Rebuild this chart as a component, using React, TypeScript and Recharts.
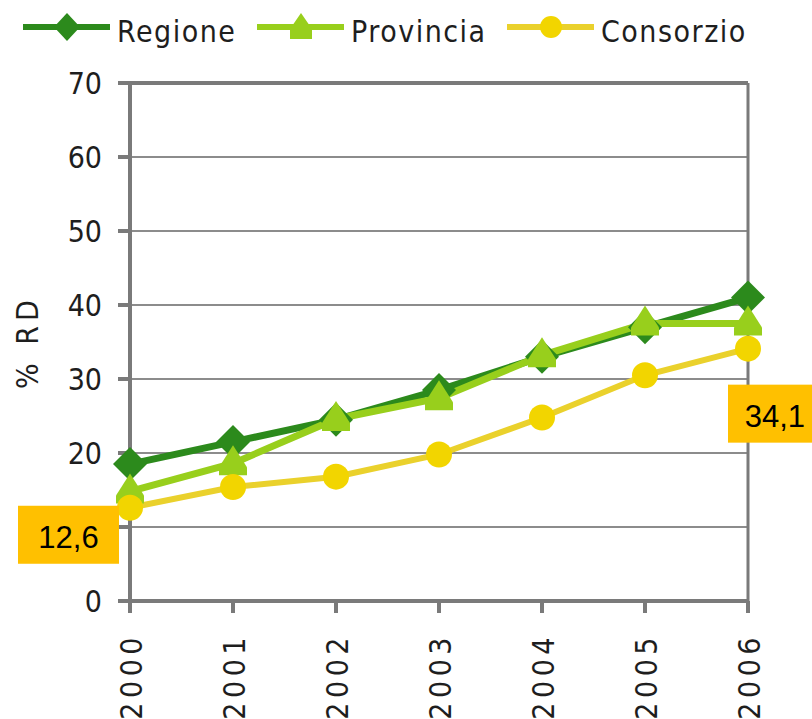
import { LineChart, Line, XAxis, YAxis, CartesianGrid, Legend, LabelList, ReferenceLine } from "recharts";

const years = ["2000", "2001", "2002", "2003", "2004", "2005", "2006"];
const regione = [18.5, 21.5, 24.5, 28.5, 33, 37, 41];
const provincia = [14.8, 18.6, 24.6, 27.4, 33.2, 37.5, 37.5];
const consorzio = [12.6, 15.4, 16.8, 19.8, 24.8, 30.5, 34.1];
const yTicks = [0, 10, 20, 30, 40, 50, 60, 70];

const data = years.map((y, i) => ({
  year: y,
  regione: regione[i],
  provincia: provincia[i],
  consorzio: consorzio[i],
}));

const DARK = "#2c8a1c";
const LIGHT = "#98cf1c";
const YELLOW = "#ead12c";
const YELLOW_DOT = "#f2d500";
const FONT = "'DejaVu Sans Condensed', 'DejaVu Sans'";
const TXT = "#1e1e1e";

const Diamond = (props: any) => {
  const { cx, cy } = props;
  if (cx == null || cy == null) return null;
  const r = 17;
  return <path d={`M${cx},${cy - r}L${cx + r},${cy}L${cx},${cy + r}L${cx - r},${cy}Z`} fill={DARK} />;
};

const Triangle = (props: any) => {
  const { cx, cy } = props;
  if (cx == null || cy == null) return null;
  return <path d={`M${cx},${cy - 18}L${cx + 14},${cy + 4}L${cx + 14},${cy + 12}L${cx - 14},${cy + 12}L${cx - 14},${cy + 4}Z`} fill={LIGHT} />;
};

const Dot = (props: any) => {
  const { cx, cy } = props;
  if (cx == null || cy == null) return null;
  return <circle cx={cx} cy={cy} r={13} fill={YELLOW_DOT} />;
};

const ValueBox = (props: any) => {
  const { x, y, index, value } = props;
  const last = consorzio.length - 1;
  if (index !== 0 && index !== last) return null;
  const text = String(value).replace(".", ",");
  const first = index === 0;
  const bx = first ? x - 112 : x - 20;
  const by = first ? y - 2 : y + 36;
  const w = first ? 101 : 90;
  return (
    <g>
      <rect x={bx} y={by} width={w} height={58} fill="#ffc000" />
      <text
        x={first ? bx + w / 2 : bx + 77}
        y={by + 42}
        textAnchor={first ? "middle" : "end"}
        fontFamily="Liberation Sans"
        fontSize={31}
        fill="#000"
      >
        {text}
      </text>
    </g>
  );
};

const YTick = (props: any) => {
  const { x, y, payload } = props;
  if (payload.value === 10) return null;
  return (
    <text x={x} y={y} dx={-14} dy="0.36em" textAnchor="end" fontFamily={FONT} fontSize={30} fill={TXT}>
      {payload.value}
    </text>
  );
};

const XTick = (props: any) => {
  const { x, y, payload } = props;
  return (
    <g transform={`translate(${x},${y})`}>
      <text transform="rotate(-90)" x={-18} y={12} textAnchor="end" fontFamily={FONT} fontSize={30} letterSpacing={4.5} fill={TXT}>
        {payload.value}
      </text>
    </g>
  );
};

const YLabel = (props: any) => {
  const { viewBox } = props;
  const cy = viewBox.y + viewBox.height / 2;
  return (
    <text transform={`translate(38,${cy}) rotate(-90)`} textAnchor="middle" fontFamily={FONT} fontSize={30} letterSpacing={5} fill={TXT}>
      % RD
    </text>
  );
};

const legendItems = [
  { name: "Regione", color: DARK, shape: "diamond" },
  { name: "Provincia", color: LIGHT, shape: "triangle" },
  { name: "Consorzio", color: YELLOW, shape: "circle" },
];
const legendX = [23, 257, 507];

const LegendContent = () => (
  <svg width={812} height={60} style={{ display: "block" }}>
    {legendItems.map((it, i) => {
      const x0 = legendX[i];
      const cy = 27;
      const mx = x0 + 44;
      return (
        <g key={it.name}>
          <line x1={x0} x2={x0 + 87} y1={cy} y2={cy} stroke={it.color} strokeWidth={6} />
          {it.shape === "diamond" && (
            <path d={`M${mx},${cy - 14}L${mx + 13},${cy}L${mx},${cy + 14}L${mx - 13},${cy}Z`} fill={it.color} />
          )}
          {it.shape === "triangle" && (
            <path d={`M${mx},${cy - 14}L${mx + 11},${cy + 2}L${mx + 11},${cy + 12}L${mx - 11},${cy + 12}L${mx - 11},${cy + 2}Z`} fill={it.color} />
          )}
          {it.shape === "circle" && <circle cx={mx} cy={cy} r={11} fill={YELLOW_DOT} />}
          <text x={x0 + 94} y={42} fontFamily={FONT} fontSize={30} letterSpacing={1.5} fill={TXT}>
            {it.name}
          </text>
        </g>
      );
    })}
  </svg>
);

export default function App() {
  return (
    <div style={{ position: "absolute", left: 0, top: 0, background: "#fff" }}>
      <LineChart width={812} height={719} data={data} margin={{ top: 23, right: 64, left: 0, bottom: 0 }}>
        <CartesianGrid vertical={false} stroke="#8c8c8c" strokeWidth={2} />
        <ReferenceLine y={70} stroke="#7a7a7a" strokeWidth={4} />
        <ReferenceLine x="2006" stroke="#7a7a7a" strokeWidth={3} />
        <XAxis
          dataKey="year"
          height={118}
          interval={0}
          stroke="#7a7a7a"
          strokeWidth={4}
          tickSize={12}
          tick={<XTick />}
        />
        <YAxis
          width={130}
          domain={[0, 70]}
          ticks={yTicks}
          interval={0}
          stroke="#7a7a7a"
          strokeWidth={4}
          tickSize={12}
          tick={<YTick />}
          label={<YLabel />}
        />
        <Legend verticalAlign="top" height={60} content={LegendContent} wrapperStyle={{ top: 0, left: 0 }} />
        <Line dataKey="regione" name="Regione" stroke={DARK} strokeWidth={7} dot={<Diamond />} isAnimationActive={false} />
        <Line dataKey="provincia" name="Provincia" stroke={LIGHT} strokeWidth={7} dot={<Triangle />} isAnimationActive={false} />
        <Line dataKey="consorzio" name="Consorzio" stroke={YELLOW} strokeWidth={6} dot={<Dot />} isAnimationActive={false}>
          <LabelList dataKey="consorzio" content={ValueBox} />
        </Line>
      </LineChart>
    </div>
  );
}
